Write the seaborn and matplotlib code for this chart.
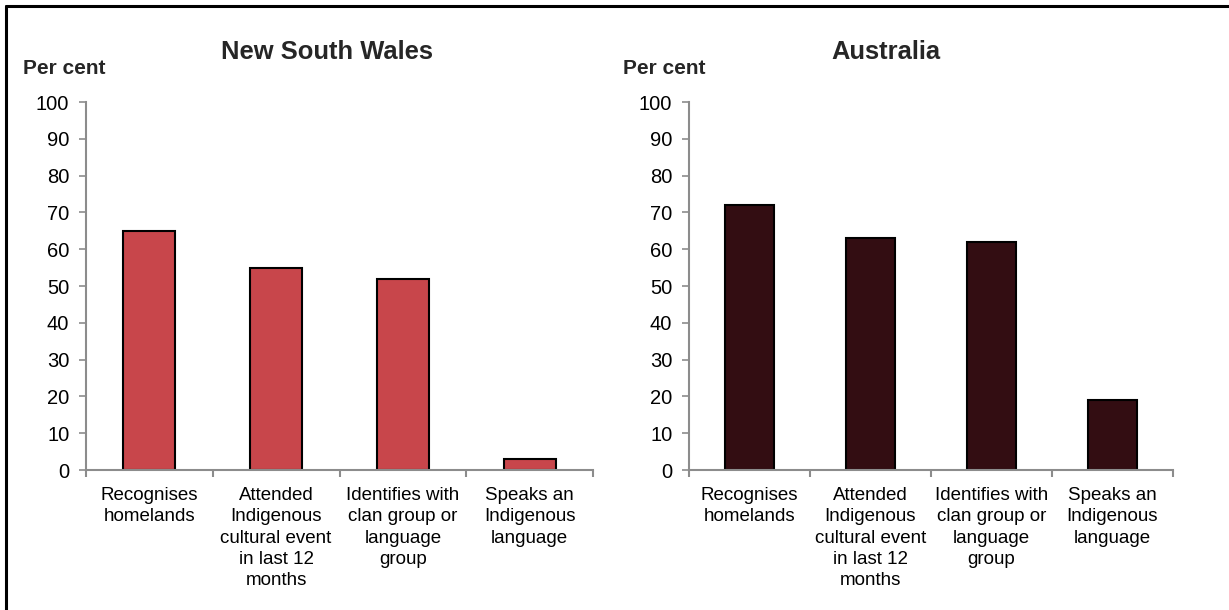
import matplotlib
matplotlib.use("Agg")
import matplotlib.pyplot as plt
import seaborn as sns
import pandas as pd
from matplotlib.lines import Line2D

sns.set_theme(style="white")
plt.rcParams['font.family'] = ['Liberation Sans', 'DejaVu Sans']

categories = ["Recognises\nhomelands",
              "Attended\nIndigenous\ncultural event\nin last 12\nmonths",
              "Identifies with\nclan group or\nlanguage\ngroup",
              "Speaks an\nIndigenous\nlanguage"]
nsw_values = [65, 55, 52, 3]
aus_values = [72, 63, 62, 19]
panel_titles = ["New South Wales", "Australia"]
yticks = [0, 10, 20, 30, 40, 50, 60, 70, 80, 90, 100]

colors = ["#C8464B", "#330D12"]
W, H = 1229, 610
fig = plt.figure(figsize=(W / 100, H / 100), dpi=100)

axes_px = [(86, 593), (689, 1173)]
top_px, bot_px = 102, 470
title_pos = [(327, 52), (886, 52)]
percent_pos = [(23, 68), (623, 68)]

for i, (vals, title) in enumerate(zip([nsw_values, aus_values], panel_titles)):
    x0, x1 = axes_px[i]
    ax = fig.add_axes([x0 / W, 1 - bot_px / H, (x1 - x0) / W, (bot_px - top_px) / H])
    df = pd.DataFrame({"cat": categories, "val": vals})
    sns.barplot(data=df, x="cat", y="val", ax=ax, color=colors[i], width=0.41,
                edgecolor="black", linewidth=1.5, saturation=1)
    ax.set_xlim(-0.5, 3.5)
    ax.set_ylim(0, 100)
    ax.set_yticks(yticks)
    ax.set_xlabel("")
    ax.set_ylabel("")
    for s in ["top", "right"]:
        ax.spines[s].set_visible(False)
    for s in ["left", "bottom"]:
        ax.spines[s].set_color("#8C8C8C")
        ax.spines[s].set_linewidth(1.5)
    ax.tick_params(axis="y", which="major", left=True, length=5, width=1.2,
                   color="#8C8C8C", labelsize=14.5, pad=7, labelcolor="black")
    ax.set_xticks(range(len(categories)))
    ax.set_xticklabels(categories, fontsize=13.5, linespacing=1.34, color="black")
    ax.tick_params(axis="x", which="major", bottom=False, length=0, pad=12)
    ax.set_xticks([-0.5, 0.5, 1.5, 2.5, 3.5], minor=True)
    ax.tick_params(axis="x", which="minor", bottom=True, length=5, width=1.5,
                   color="#8C8C8C")
    for lab in ax.get_xticklabels():
        lab.set_verticalalignment("top")
    fig.text(title_pos[i][0] / W, 1 - title_pos[i][1] / H, title,
             ha="center", va="center", fontsize=18.4, fontweight="bold")
    fig.text(percent_pos[i][0] / W, 1 - percent_pos[i][1] / H, "Per cent",
             ha="left", va="center", fontsize=15, fontweight="bold")

# outer border (top and left)
fig.add_artist(Line2D([5.5 / W, 1], [1 - 5.5 / H, 1 - 5.5 / H], color="black", lw=2.2,
                      transform=fig.transFigure))
fig.add_artist(Line2D([5.5 / W, 5.5 / W], [0, 1 - 5.5 / H], color="black", lw=2.2,
                      transform=fig.transFigure))

fig.savefig("out.png", dpi=100, facecolor="white")
